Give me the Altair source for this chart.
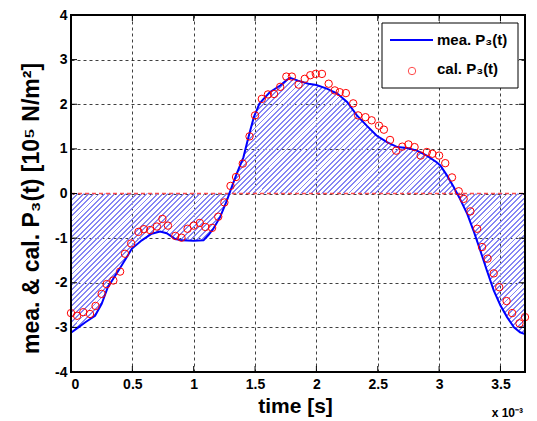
import altair as alt
import pandas as pd

# ---------------- data (time in units of 1e-3 s, pressure in 1e5 N/m^2) -------------
t_meas = [0.00, 0.06, 0.12, 0.196, 0.25, 0.30, 0.386, 0.454, 0.495, 0.577, 0.658,
          0.726, 0.78, 0.85, 0.90, 1.00, 1.08, 1.12, 1.16, 1.215, 1.27, 1.30, 1.35,
          1.405, 1.446, 1.49, 1.535, 1.57, 1.62, 1.705, 1.76, 1.786, 1.85, 1.935,
          2.00, 2.085, 2.17, 2.25, 2.33, 2.41, 2.49, 2.575, 2.66, 2.74, 2.82, 2.90,
          2.98, 3.01, 3.065, 3.12, 3.17, 3.23, 3.28, 3.336, 3.39, 3.445, 3.50, 3.554,
          3.61, 3.66, 3.70]
p_meas = [-3.12, -3.00, -2.88, -2.74, -2.47, -2.10, -1.73, -1.43, -1.24, -1.05, -0.90,
          -0.85, -0.89, -1.02, -1.05, -1.06, -1.05, -0.93, -0.79, -0.53, -0.16, 0.07, 0.44,
          0.81, 1.26, 1.71, 2.01, 2.12, 2.27, 2.42, 2.55, 2.59, 2.53, 2.46,
          2.43, 2.35, 2.24, 2.05, 1.75, 1.52, 1.30, 1.15, 1.04, 1.02, 0.96, 0.85,
          0.70, 0.63, 0.40, 0.14, -0.12, -0.46, -0.83, -1.28, -1.73, -2.17, -2.51, -2.77,
          -3.00, -3.11, -3.15]

t_cal = [0.00, 0.05, 0.10, 0.155, 0.20, 0.25, 0.29, 0.345, 0.40, 0.44, 0.49, 0.55,
         0.595, 0.645, 0.70, 0.745, 0.79, 0.85, 0.90, 0.95, 1.00, 1.05, 1.095, 1.15,
         1.20, 1.25, 1.30, 1.345, 1.40, 1.455, 1.50, 1.555, 1.605, 1.655, 1.705, 1.755,
         1.80, 1.855, 1.905, 1.95, 1.995, 2.045, 2.10, 2.15, 2.19, 2.24, 2.30, 2.34,
         2.40, 2.45, 2.51, 2.55, 2.60, 2.65, 2.70, 2.75, 2.80, 2.85, 2.90, 2.945,
         3.00, 3.05, 3.105, 3.16, 3.20, 3.255, 3.31, 3.35, 3.395, 3.445, 3.49, 3.55,
         3.595, 3.655, 3.70]
p_cal = [-2.68, -2.74, -2.66, -2.70, -2.52, -2.25, -2.03, -1.95, -1.75, -1.35, -1.12, -0.86,
         -0.80, -0.82, -0.74, -0.57, -0.72, -0.95, -0.99, -0.79, -0.72, -0.66, -0.75, -0.77,
         -0.52, -0.20, 0.17, 0.37, 0.67, 1.28, 1.75, 2.12, 2.22, 2.23, 2.39, 2.62,
         2.62, 2.44, 2.57, 2.65, 2.68, 2.68, 2.46, 2.31, 2.27, 2.25, 2.02, 1.75,
         1.71, 1.64, 1.52, 1.43, 1.20, 0.96, 1.05, 1.10, 1.04, 0.85, 0.93, 0.89,
         0.85, 0.68, 0.36, 0.05, -0.12, -0.40, -0.79, -1.20, -1.46, -1.79, -2.10, -2.41,
         -2.68, -2.91, -2.77]

x_ticks = [0, 0.5, 1, 1.5, 2, 2.5, 3, 3.5]
y_ticks = [-4, -3, -2, -1, 0, 1, 2, 3, 4]
legend_labels = ["mea. P\u2083(t)", "cal. P\u2083(t)"]
x_title = "time [s]"
y_title = "mea. & cal. P\u2083(t) [10\u2075 N/m\u00b2]"
x_factor = "x 10\u207b\u00b3"

# ---------------- layout / style ----------------
W, H = 454, 357
FONT = "Liberation Sans"
BLUE = "#0000ff"
RED = "#ff0000"
HATCH = "#8686f4"

meas = pd.DataFrame({"t": t_meas, "p": p_meas})
cal = pd.DataFrame({"t": t_cal, "p": p_cal})
xt = pd.DataFrame({"t": x_ticks})
yt = pd.DataFrame({"p": y_ticks})
one = pd.DataFrame({"a": [0]})

xs = alt.Scale(domain=[0, 3.7], nice=False, zero=False)
ys = alt.Scale(domain=[-4, 4], nice=False)
xaxis = alt.Axis(values=x_ticks, title=x_title, labelExpr="'' + datum.value",
                 ticks=False, domain=False, labelPadding=5,
                 titleFontSize=21, titleX=224, titleY=40,
                 titleBaseline="alphabetic", titleAlign="center")
yaxis = alt.Axis(values=y_ticks, title=y_title, labelExpr="'' + datum.value",
                 ticks=False, domain=False, labelPadding=4,
                 titleFontSize=23, titleX=-33, titleY=193, titleAngle=270,
                 titleBaseline="alphabetic", titleAlign="center")
X = alt.X("t:Q", scale=xs, axis=xaxis)
Y = alt.Y("p:Q", scale=ys, axis=yaxis)

# diagonal hatch as a hard-stop linear gradient (object bounding box units)
BW, BH = 454.0, 256.0
s = (BW + BH) / (BW * BW + BH * BH)
N = 134
stops = []
for k in range(N):
    a = k / N
    b = (k + 0.36) / N
    c = (k + 1) / N
    stops += [alt.GradientStop(offset=a, color=HATCH),
              alt.GradientStop(offset=b, color=HATCH),
              alt.GradientStop(offset=b, color="rgba(255,255,255,0)"),
              alt.GradientStop(offset=c, color="rgba(255,255,255,0)")]
hatch = alt.LinearGradient(gradient="linear", stops=stops,
                           x1=0, y1=0, x2=s * BW, y2=s * BH)

area = alt.Chart(meas).mark_area(fill=hatch, interpolate="linear").encode(
    x=X, y=Y, y2=alt.datum(0))

zero = alt.Chart(one).mark_rule(color="#ff3030", strokeDash=[4, 3], strokeWidth=1.5,
                                opacity=0.85).encode(
    y=alt.datum(0), x=alt.value(0), x2=alt.value(W))

line = alt.Chart(meas).mark_line(color=BLUE, strokeWidth=2).encode(x=X, y=Y)

pts = alt.Chart(cal).mark_point(shape="circle", filled=False, color=RED,
                                size=55, strokeWidth=1, opacity=1).encode(x=X, y=Y)

tk = dict(color="black", strokeWidth=1)
tick_top = alt.Chart(xt).mark_rule(**tk).encode(x=X, y=alt.value(0), y2=alt.value(6))
tick_bot = alt.Chart(xt).mark_rule(**tk).encode(x=X, y=alt.value(H - 6), y2=alt.value(H))
tick_left = alt.Chart(yt).mark_rule(**tk).encode(y=Y, x=alt.value(0), x2=alt.value(6))
tick_right = alt.Chart(yt).mark_rule(**tk).encode(y=Y, x=alt.value(W - 6), x2=alt.value(W))

frame = alt.Chart(one).mark_rect(fillOpacity=0, stroke="black", strokeWidth=2).encode(
    x=alt.value(0), x2=alt.value(W), y=alt.value(0), y2=alt.value(H))

# legend
leg_box = alt.Chart(one).mark_rect(fill="white", stroke="black", strokeWidth=1).encode(
    x=alt.value(311), x2=alt.value(447), y=alt.value(8), y2=alt.value(73))
leg_line = alt.Chart(one).mark_rule(color=BLUE, strokeWidth=2).encode(
    x=alt.value(319), x2=alt.value(362), y=alt.value(25))
leg_pt = alt.Chart(one).mark_point(shape="circle", filled=False, color=RED,
                                   size=55, strokeWidth=1).encode(
    x=alt.value(341), y=alt.value(56))
txt = dict(font=FONT, fontSize=15, fontWeight="bold", color="black",
           align="left", baseline="middle")
leg_t1 = alt.Chart(one).mark_text(text=legend_labels[0], **txt).encode(
    x=alt.value(366), y=alt.value(25))
leg_t2 = alt.Chart(one).mark_text(text=legend_labels[1], **txt).encode(
    x=alt.value(366), y=alt.value(54))

factor = alt.Chart(one).mark_text(text=x_factor, font=FONT, fontSize=12,
                                  fontWeight="bold", color="black", align="right",
                                  baseline="alphabetic").encode(
    x=alt.value(452), y=alt.value(H + 45))

chart = alt.layer(
    area, zero, line, pts, tick_top, tick_bot, tick_left, tick_right, frame,
    leg_box, leg_line, leg_pt, leg_t1, leg_t2, factor
).properties(
    width=W, height=H,
    padding={"left": 71, "top": 15, "right": 12, "bottom": 49},
    autosize=alt.AutoSizeParams(type="none"),
    background="white",
).configure_view(
    stroke="transparent"
).configure_axis(
    labelFont=FONT, labelFontSize=14, labelFontWeight="bold", labelColor="black",
    titleFont=FONT, titleFontWeight="bold", titleColor="black",
    grid=True, gridColor="black", gridDash=[3, 3], gridOpacity=0.75, gridWidth=1,
)

chart.save("out.html", embed_options={"renderer": "svg", "actions": False})
